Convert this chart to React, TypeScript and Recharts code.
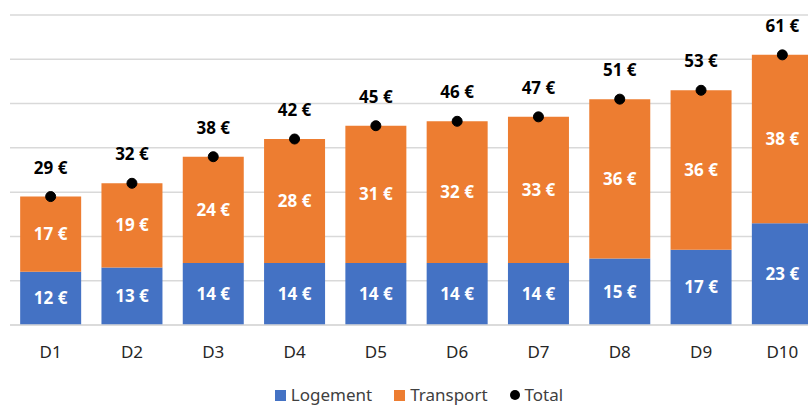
import { ComposedChart, Bar, Line, XAxis, YAxis, CartesianGrid, LabelList, Legend } from 'recharts';

const categories = ['D1', 'D2', 'D3', 'D4', 'D5', 'D6', 'D7', 'D8', 'D9', 'D10'];
const logement = [12, 13, 14, 14, 14, 14, 14, 15, 17, 23];
const transport = [17, 19, 24, 28, 31, 32, 33, 36, 36, 38];
const total = [29, 32, 38, 42, 45, 46, 47, 51, 53, 61];
const yTicks = [0, 10, 20, 30, 40, 50, 60, 70];

const data = categories.map((name, i) => ({
  name,
  logement: logement[i],
  transport: transport[i],
  total: total[i],
}));

const FONT = '"Noto Sans", sans-serif';
const euro = (v: any) => `${v} €`;

function LegendContent() {
  const items = [
    { label: 'Logement', color: '#4472C4', shape: 'square' },
    { label: 'Transport', color: '#ED7D31', shape: 'square' },
    { label: 'Total', color: '#000000', shape: 'circle' },
  ];
  return (
    <div style={{ display: 'flex', justifyContent: 'center', gap: 22, fontFamily: FONT, fontSize: 17, color: '#404040', lineHeight: '20px' }}>
      {items.map((it) => (
        <div key={it.label} style={{ display: 'flex', alignItems: 'center', gap: 5 }}>
          <span
            style={{
              width: it.shape === 'circle' ? 10 : 11,
              height: it.shape === 'circle' ? 10 : 11,
              borderRadius: it.shape === 'circle' ? '50%' : 0,
              background: it.color,
              display: 'inline-block',
            }}
          />
          <span>{it.label}</span>
        </div>
      ))}
    </div>
  );
}

export default function App() {
  return (
    <div style={{ position: 'fixed', left: 0, top: 0, width: 808, height: 405, overflow: 'hidden', background: '#fff' }}>
      <ComposedChart
        width={830}
        height={420}
        data={data}
        margin={{ top: 15, right: 7, left: 10, bottom: 10 }}
        barCategoryGap="12.5%"
      >
        <CartesianGrid vertical={false} stroke="#D9D9D9" strokeWidth={1.5} />
        <XAxis
          dataKey="name"
          height={60}
          axisLine={{ stroke: '#D9D9D9', strokeWidth: 1.5 }}
          tickLine={false}
          tickMargin={15}
          tick={{ fill: '#262626', fontSize: 17, fontFamily: FONT }}
        />
        <YAxis hide domain={[0, 70]} ticks={yTicks} />
        <Legend verticalAlign="bottom" height={25} wrapperStyle={{ left: 0, width: 838 }} content={<LegendContent />} />
        <Bar dataKey="logement" name="Logement" stackId="a" fill="#4472C4" isAnimationActive={false}>
          <LabelList dataKey="logement" position="center" formatter={euro} fill="#fff" fontSize={17} fontWeight="bold" fontFamily={FONT} />
        </Bar>
        <Bar dataKey="transport" name="Transport" stackId="a" fill="#ED7D31" isAnimationActive={false}>
          <LabelList dataKey="transport" position="center" formatter={euro} fill="#fff" fontSize={17} fontWeight="bold" fontFamily={FONT} />
        </Bar>
        <Line
          dataKey="total"
          name="Total"
          stroke="none"
          dot={{ r: 5, fill: '#000', stroke: '#000' }}
          activeDot={false}
          isAnimationActive={false}
        >
          <LabelList dataKey="total" position="top" offset={23} formatter={euro} fill="#000" fontSize={17} fontWeight="bold" fontFamily={FONT} />
        </Line>
      </ComposedChart>
    </div>
  );
}
